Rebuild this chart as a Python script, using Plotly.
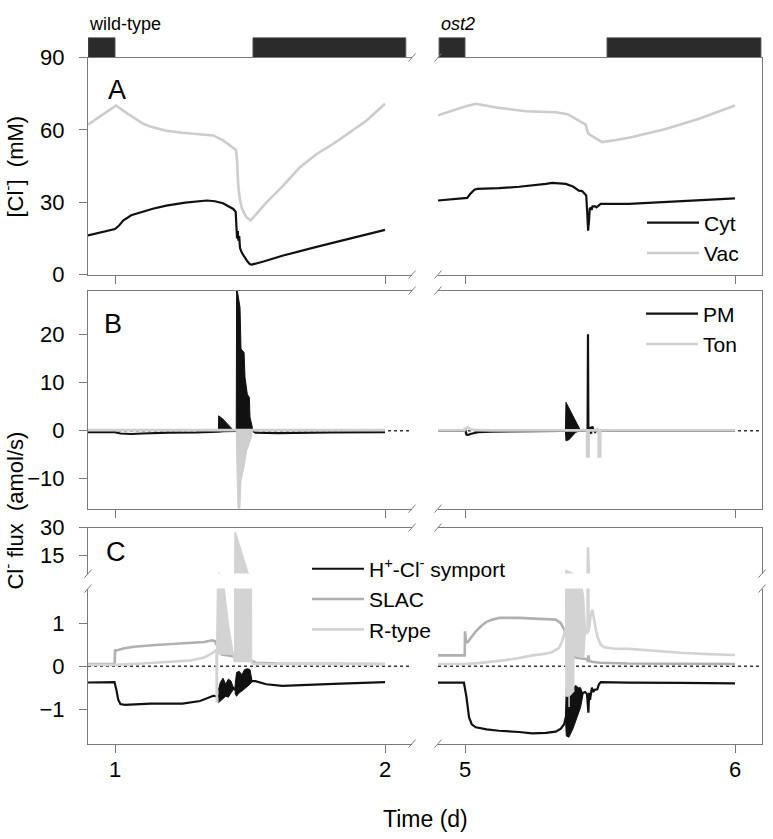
import plotly.graph_objects as go

W, H = 773, 839

# ---------------- data (time in days) ----------------
# light / dark periods (dark bars)
wt_dark_start = [0.9, 1.511]
wt_dark_end = [1.0, 2.077]
ost2_dark_start = [4.904, 5.526]
ost2_dark_end = [5.0, 6.096]

# ---- Panel A : [Cl-] (mM) ----
wt_cyt_t = [0.9, 1.0, 1.015, 1.03, 1.06, 1.093, 1.14, 1.19, 1.26, 1.34, 1.37, 1.40, 1.438, 1.447,
            1.450, 1.452, 1.455, 1.457, 1.460, 1.463, 1.470, 1.480, 1.490, 1.500, 1.506, 1.55,
            1.623, 1.75, 1.90, 2.0]
wt_cyt = [16.2, 18.9, 20.3, 22.4, 24.6, 25.8, 27.3, 28.6, 29.8, 30.7, 30.4, 29.6, 27.2, 26.0,
          20.0, 15.0, 18.0, 14.0, 16.0, 11.0, 9.0, 7.0, 5.5, 4.3, 4.1, 5.4, 7.9, 11.6, 15.8, 18.5]
wt_vac_t = [0.9, 0.95, 1.0, 1.004, 1.03, 1.067, 1.1, 1.13, 1.19, 1.25, 1.315, 1.364, 1.4, 1.437,
            1.448, 1.452, 1.457, 1.463, 1.469, 1.478, 1.487, 1.502, 1.53, 1.562, 1.623, 1.685,
            1.747, 1.808, 1.87, 1.932, 2.0]
wt_vac = [62.2, 66.0, 69.6, 70.1, 68.0, 65.1, 62.8, 61.4, 59.6, 58.8, 58.3, 57.7, 55.6, 52.8,
          51.7, 47.3, 36.2, 31.0, 27.9, 25.5, 23.8, 22.4, 26.0, 30.0, 36.9, 44.5, 50.0, 54.2,
          59.0, 63.9, 70.8]

ost2_cyt_t = [4.9, 5.0, 5.008, 5.02, 5.035, 5.045, 5.126, 5.2, 5.249, 5.3, 5.323, 5.36, 5.373,
              5.4, 5.422, 5.434, 5.449, 5.453, 5.456, 5.459, 5.462, 5.466, 5.469, 5.472, 5.48,
              5.4865, 5.5026, 5.607, 5.8, 6.0]
ost2_cyt = [30.7, 31.5, 31.8, 33.5, 35.2, 35.5, 35.8, 36.4, 36.9, 37.6, 38.0, 37.9, 37.6,
            36.5, 34.8, 34.6, 32.8, 25.0, 18.2, 22.0, 27.2, 27.8, 26.8, 28.2, 28.4, 27.9,
            29.3, 29.3, 30.5, 31.6]
ost2_vac_t = [4.9, 5.0, 5.04, 5.126, 5.225, 5.336, 5.38, 5.422, 5.447, 5.452, 5.457, 5.466,
              5.484, 5.508, 5.56, 5.62, 5.743, 5.867, 6.0]
ost2_vac = [66.0, 69.7, 70.8, 69.1, 67.7, 67.3, 66.5, 63.9, 62.2, 60.0, 58.3, 57.7, 56.4, 54.9,
            55.8, 57.0, 60.4, 64.6, 70.1]

# ---- Panel B : Cl- flux PM / tonoplast (amol/s) ----
wt_pm_t = [0.9, 1.0, 1.02, 1.06, 1.1, 1.15, 1.2, 1.3, 1.37, 1.383, 1.40, 1.438, 1.449, 1.509,
           1.52, 1.6, 1.8, 2.0]
wt_pm = [-0.3, -0.3, -0.6, -0.7, -0.6, -0.45, -0.4, -0.35, -0.3, -0.2, -0.1, -0.1, 0.0, 0.0,
         -0.4, -0.5, -0.35, -0.3]
wt_pm_b1_t = [1.383, 1.384, 1.40, 1.42, 1.438]
wt_pm_b1_hi = [0.0, 3.1, 2.4, 1.3, 0.1]
wt_pm_b1_lo = [0.0, 0.0, 0.0, 0.0, 0.0]
wt_pm_b2_t = [1.449, 1.4505, 1.463, 1.4667, 1.478, 1.4815, 1.490, 1.4975, 1.500, 1.5086]
wt_pm_b2_hi = [0.0, 30.0, 25.7, 17.0, 16.3, 11.1, 7.6, 6.9, 2.8, 0.7]
wt_pm_b2_lo = [0.0, 0.0, 0.0, 0.0, 0.0, 0.0, 0.0, 0.0, 0.0, 0.0]
wt_ton_t = [0.9, 1.0, 1.05, 1.1, 1.3, 1.38, 1.449, 1.508, 1.52, 2.0]
wt_ton = [0.1, 0.1, 0.25, 0.15, 0.1, 0.1, 0.1, 0.1, 0.15, 0.1]
wt_ton_b_t = [1.449, 1.452, 1.456, 1.462, 1.4667, 1.478, 1.4875, 1.4975, 1.5056, 1.508]
wt_ton_b_hi = [0.0, 0.0, 0.0, 0.0, 0.0, 0.0, 0.0, 0.0, 0.0, 0.0]
wt_ton_b_lo = [0.0, -9.0, -17.0, -17.0, -10.4, -7.6, -4.2, -2.8, -1.4, 0.0]

ost2_pm_t = [4.9, 4.998, 5.0, 5.005, 5.012, 5.02, 5.035, 5.05, 5.1, 5.2, 5.3, 5.372, 5.428,
             5.44, 5.452, 5.454, 5.4555, 5.457, 5.46, 5.463, 5.467, 5.471, 5.476, 5.482, 5.49,
             5.5, 5.6, 6.0]
ost2_pm = [-0.05, -0.05, 0.5, -0.8, -0.9, -0.7, -0.5, -0.3, -0.2, -0.15, -0.1, -0.1, 0.0,
           0.0, 0.0, 0.0, 20.1, 0.0, -0.8, 0.8, -0.6, 0.9, 0.2, -0.3, 0.2, 0.0, -0.05, -0.05]
ost2_pm_b_t = [5.372, 5.374, 5.385, 5.41, 5.428]
ost2_pm_b_hi = [0.0, 5.9, 4.7, 2.1, 0.1]
ost2_pm_b_lo = [0.0, -2.1, -1.9, -0.35, 0.0]
ost2_ton_t = [4.9, 4.998, 5.0, 5.01, 5.02, 5.05, 5.1, 5.452, 5.4522, 5.4578, 5.458, 5.495,
              5.4952, 5.5008, 5.501, 6.0]
ost2_ton = [0.05, 0.05, 0.3, 0.7, 0.3, 0.1, 0.05, 0.05, -5.4, -5.4, 0.05, 0.05, -5.4, -5.4,
            0.05, 0.05]

# ---- Panel C : Cl- flux by transporter (amol/s) ----
wt_sym_t = [0.9, 0.998, 1.005, 1.012, 1.02, 1.037, 1.13, 1.25, 1.315, 1.364, 1.383, 1.41,
            1.438, 1.445, 1.475, 1.506, 1.52, 1.56, 1.62, 1.81, 2.0]
wt_sym = [-0.38, -0.37, -0.55, -0.78, -0.88, -0.9, -0.87, -0.87, -0.81, -0.69, -0.7, -0.55,
          -0.5, -0.55, -0.35, -0.35, -0.35, -0.42, -0.46, -0.41, -0.37]
wt_sym_b1_t = [1.383, 1.39, 1.40, 1.41, 1.42, 1.43, 1.438]
wt_sym_b1_hi = [-0.55, -0.38, -0.28, -0.42, -0.3, -0.35, -0.5]
wt_sym_b1_lo = [-0.85, -0.82, -0.75, -0.7, -0.72, -0.62, -0.55]
wt_sym_b2_t = [1.444, 1.45, 1.46, 1.47, 1.48, 1.49, 1.50, 1.508]
wt_sym_b2_hi = [-0.5, -0.15, -0.12, -0.2, -0.08, -0.06, -0.08, -0.3]
wt_sym_b2_lo = [-0.62, -0.7, -0.62, -0.58, -0.52, -0.48, -0.42, -0.36]
wt_slac_t = [0.9, 0.999, 1.0, 1.004, 1.03, 1.07, 1.15, 1.25, 1.33, 1.36, 1.37, 1.38, 1.395,
             1.42, 1.44, 1.46, 1.5, 1.52, 1.6, 2.0]
wt_slac = [0.05, 0.05, 0.38, 0.36, 0.41, 0.45, 0.49, 0.52, 0.56, 0.6, 0.58, 0.45, 0.27, 0.25,
           0.22, 0.2, 0.15, 0.08, 0.06, 0.05]
wt_rt_t = [0.9, 1.0, 1.1, 1.2, 1.28, 1.33, 1.36, 1.376, 1.377, 1.378, 1.38, 1.44, 1.443,
           1.506, 1.51, 1.55, 2.0]
wt_rt = [0.03, 0.03, 0.06, 0.09, 0.13, 0.2, 0.3, 0.38, -0.85, 0.3, 0.3, 0.3, 0.12, 0.12,
         0.06, 0.05, 0.05]
wt_rt_b1_t = [1.376, 1.3765, 1.384, 1.385, 1.386, 1.405, 1.42, 1.438]
wt_rt_b1_hi = [0.3, 2.5, 2.5, 5.6, 2.5, 1.8, 1.0, 0.3]
wt_rt_b1_lo = [0.3, 0.28, 0.28, 0.28, 0.28, 0.28, 0.28, 0.3]
wt_rt_b2_t = [1.443, 1.4435, 1.447, 1.47, 1.494, 1.4945, 1.506, 1.5065]
wt_rt_b2_hi = [0.12, 27.5, 27.3, 17.0, 5.0, 2.5, 2.5, 0.12]
wt_rt_b2_lo = [0.12, 0.12, 0.12, 0.12, 0.12, 0.12, 0.12, 0.12]

ost2_sym_t = [4.9, 4.996, 5.005, 5.015, 5.025, 5.04, 5.08, 5.126, 5.2, 5.249, 5.3, 5.336,
              5.355, 5.367, 5.373, 5.437, 5.445, 5.452, 5.457, 5.46, 5.463, 5.466, 5.47,
              5.475, 5.48, 5.49, 5.496, 5.503, 5.6, 5.8, 6.0]
ost2_sym = [-0.385, -0.385, -0.7, -1.19, -1.35, -1.42, -1.47, -1.5, -1.53, -1.56, -1.55,
            -1.52, -1.45, -1.35, -1.2, -0.62, -0.6, -0.65, -1.08, -0.62, -0.78, -0.69, -0.5,
            -0.6, -0.55, -0.54, -0.42, -0.37, -0.385, -0.39, -0.4]
ost2_sym_b_t = [5.372, 5.375, 5.385, 5.4, 5.41, 5.42, 5.428, 5.437]
ost2_sym_b_hi = [-1.2, -0.5, -0.3, -0.5, -0.45, -0.5, -0.5, -0.62]
ost2_sym_b_lo = [-1.2, -1.62, -1.65, -1.45, -1.3, -1.1, -0.96, -0.66]
ost2_slac_t = [4.9, 4.999, 5.0, 5.004, 5.01, 5.02, 5.04, 5.06, 5.08, 5.1, 5.126, 5.2, 5.25,
               5.3, 5.336, 5.355, 5.367, 5.38, 5.39, 5.4, 5.41, 5.42, 5.44, 5.452, 5.455,
               5.457, 5.46, 5.47, 5.5, 5.6, 6.0]
ost2_slac = [0.25, 0.25, 0.81, 0.55, 0.56, 0.65, 0.81, 0.93, 1.03, 1.08, 1.12, 1.12, 1.11,
             1.1, 1.08, 1.0, 0.85, 0.62, 0.4, 0.25, 0.2, 0.19, 0.17, 0.16, 0.1, 0.25, 0.12,
             0.1, 0.08, 0.06, 0.05]
ost2_rt_t = [4.9, 5.0, 5.05, 5.1, 5.15, 5.2, 5.25, 5.3, 5.32, 5.348, 5.36, 5.372, 5.447,
             5.452, 5.454, 5.4555, 5.457, 5.46, 5.465, 5.4716, 5.478, 5.484, 5.49, 5.496,
             5.503, 5.515, 5.55, 5.607, 5.7, 5.8, 5.9, 6.0]
ost2_rt = [0.05, 0.05, 0.07, 0.1, 0.14, 0.19, 0.25, 0.29, 0.32, 0.42, 0.58, 0.85, 0.85, 0.75,
           0.8, 19.3, 0.8, 0.9, 1.15, 1.31, 1.05, 0.88, 0.69, 0.58, 0.5, 0.44, 0.41, 0.4,
           0.35, 0.31, 0.28, 0.26]
ost2_rt_b_t = [5.372, 5.373, 5.385, 5.3855, 5.386, 5.395, 5.40, 5.4035, 5.404, 5.42, 5.43,
               5.44, 5.447]
ost2_rt_b_hi = [0.85, 7.0, 6.3, 6.3, 6.3, 5.6, 5.0, 3.0, 3.0, 2.5, 2.0, 1.6, 0.85]
ost2_rt_b_lo = [0.85, -0.7, -0.7, -0.95, -0.7, -0.65, -0.6, -0.6, 0.25, 0.22, 0.2, 0.2, 0.85]

# tick labels / ranges
x_ticks_wt = [1, 2]
x_ticks_ost2 = [5, 6]
x_range_wt = [0.9, 2.1]
x_range_ost2 = [4.9, 6.1]
yA_ticks = [0, 30, 60, 90]
yB_ticks = [-10, 0, 10, 20]
yCu_ticks = [15, 30]
yCl_ticks = [-1, 0, 1]
yA_range = [0, 90]
yB_range = [-16.25, 29.2]
yCu_range = [5, 30]
yCl_range = [-1.8, 1.8]

# ---------------- style ----------------
FONT = "Liberation Sans, Arial, sans-serif"
AX = "#7a7a7a"
BLACK = "#111111"
VAC = "#cccccc"
TON = "#cfcfcf"
SLAC = "#b0b0b0"
RTYPE = "#d3d3d3"
LW = 2.2

# target pixel layout of the panels (as seen in the final picture)
cols = {"L": (88, 412), "R": (438, 762)}
rows = {"bar": (37, 57), "A": (57, 274), "B": (290, 508), "Cu": (527, 573), "Cl": (588, 743)}
row_order = ["bar", "A", "B", "Cu", "Cl"]
col_order = ["L", "R"]

# the captured page maps page-y to picture-y as  y_pic = 11.5 + 0.970 * y_page
Y_OFF, Y_SCALE = 11.5, 0.970


def px_x(p):
    return p / W


def px_y(p):
    yp = (p - Y_OFF) / Y_SCALE
    return 1 - yp / H


def axn(r, c):
    return row_order.index(r) * 2 + col_order.index(c) + 1


def xa(r, c):
    n = axn(r, c)
    return "x" if n == 1 else f"x{n}"


def ya(r, c):
    n = axn(r, c)
    return "y" if n == 1 else f"y{n}"


fig = go.Figure()


def add_line(r, c, t, v, color, name=None, legend=None, width=LW):
    fig.add_trace(go.Scatter(x=t, y=v, xaxis=xa(r, c), yaxis=ya(r, c), mode="lines",
                             line=dict(color=color, width=width), name=name,
                             showlegend=name is not None, legend=legend,
                             hoverinfo="skip"))


def add_burst(r, c, t, hi, lo, color):
    xs = list(t) + list(t)[::-1]
    ys = list(hi) + list(lo)[::-1]
    fig.add_trace(go.Scatter(x=xs, y=ys, xaxis=xa(r, c), yaxis=ya(r, c), mode="lines",
                             fill="toself", fillcolor=color,
                             line=dict(color=color, width=1), showlegend=False,
                             hoverinfo="skip"))


# ---- day / night bars ----
for c, s, e in [("L", wt_dark_start, wt_dark_end), ("R", ost2_dark_start, ost2_dark_end)]:
    fig.add_trace(go.Bar(y=["d"] * len(s), x=[b - a for a, b in zip(s, e)], base=s,
                         orientation="h", xaxis=xa("bar", c), yaxis=ya("bar", c),
                         marker=dict(color="#2b2b2b", line=dict(color="#555555", width=1)),
                         width=1, showlegend=False, hoverinfo="skip"))

# ---- Panel A ----
add_line("A", "L", wt_cyt_t, wt_cyt, BLACK, "Cyt", "legend")
add_line("A", "L", wt_vac_t, wt_vac, VAC, "Vac", "legend", width=2.6)
add_line("A", "R", ost2_cyt_t, ost2_cyt, BLACK)
add_line("A", "R", ost2_vac_t, ost2_vac, VAC, width=2.6)

# ---- Panel B ----
add_line("B", "L", wt_pm_t, wt_pm, BLACK, "PM", "legend2")
add_burst("B", "L", wt_pm_b1_t, wt_pm_b1_hi, wt_pm_b1_lo, BLACK)
add_burst("B", "L", wt_pm_b2_t, wt_pm_b2_hi, wt_pm_b2_lo, BLACK)
add_line("B", "L", wt_ton_t, wt_ton, TON, "Ton", "legend2", width=2.6)
add_burst("B", "L", wt_ton_b_t, wt_ton_b_hi, wt_ton_b_lo, TON)
add_line("B", "R", ost2_pm_t, ost2_pm, BLACK)
add_burst("B", "R", ost2_pm_b_t, ost2_pm_b_hi, ost2_pm_b_lo, BLACK)
add_line("B", "R", ost2_ton_t, ost2_ton, TON, width=2.6)

# ---- Panel C (drawn on both segments of the broken axis) ----
for seg in ["Cu", "Cl"]:
    first = seg == "Cl"
    add_line(seg, "L", wt_sym_t, wt_sym, BLACK,
             "H<sup>+</sup>-Cl<sup>-</sup> symport" if first else None, "legend3")
    add_burst(seg, "L", wt_sym_b1_t, wt_sym_b1_hi, wt_sym_b1_lo, BLACK)
    add_burst(seg, "L", wt_sym_b2_t, wt_sym_b2_hi, wt_sym_b2_lo, BLACK)
    add_line(seg, "L", wt_slac_t, wt_slac, SLAC, "SLAC" if first else None, "legend3", width=2.6)
    add_line(seg, "L", wt_rt_t, wt_rt, RTYPE, "R-type" if first else None, "legend3", width=2.6)
    add_burst(seg, "L", wt_rt_b1_t, wt_rt_b1_hi, wt_rt_b1_lo, RTYPE)
    add_burst(seg, "L", wt_rt_b2_t, wt_rt_b2_hi, wt_rt_b2_lo, RTYPE)

    add_line(seg, "R", ost2_sym_t, ost2_sym, BLACK)
    add_burst(seg, "R", ost2_sym_b_t, ost2_sym_b_hi, ost2_sym_b_lo, BLACK)
    add_line(seg, "R", ost2_slac_t, ost2_slac, SLAC, width=2.6)
    add_line(seg, "R", ost2_rt_t, ost2_rt, RTYPE, width=2.6)
    add_burst(seg, "R", ost2_rt_b_t, ost2_rt_b_hi, ost2_rt_b_lo, RTYPE)

# ---------------- axes ----------------
layout = {}
yranges = {"bar": [-0.5, 0.5], "A": yA_range, "B": yB_range, "Cu": yCu_range, "Cl": yCl_range}
yticks = {"A": yA_ticks, "B": yB_ticks, "Cu": yCu_ticks, "Cl": yCl_ticks}
tickfont = dict(family=FONT, size=22, color="#000000")

for r in row_order:
    for c in col_order:
        n = axn(r, c)
        xk = "xaxis" if n == 1 else f"xaxis{n}"
        yk = "yaxis" if n == 1 else f"yaxis{n}"
        xdom = [px_x(cols[c][0]), px_x(cols[c][1])]
        ydom = [px_y(rows[r][1]), px_y(rows[r][0])]
        xr = x_range_wt if c == "L" else x_range_ost2
        xt = x_ticks_wt if c == "L" else x_ticks_ost2
        if r == "bar":
            layout[xk] = dict(domain=xdom, range=xr, visible=False, anchor=ya(r, c))
            layout[yk] = dict(domain=ydom, range=yranges[r], visible=False, anchor=xa(r, c))
            continue
        xd = dict(domain=xdom, range=xr, anchor=ya(r, c), showgrid=False, zeroline=False,
                  showline=True, linecolor=AX, linewidth=1, tickvals=xt, tickcolor=AX,
                  ticklen=8, tickwidth=1, tickfont=tickfont, fixedrange=True)
        if r in ("A", "B"):
            xd.update(mirror=True, ticks="outside", showticklabels=False)
        elif r == "Cu":
            xd.update(side="top", ticks="", showticklabels=False)
        else:
            xd.update(side="bottom", ticks="outside", showticklabels=True,
                      ticklabelstandoff=-2)
        yd = dict(domain=ydom, range=yranges[r], anchor=xa(r, c), showgrid=False,
                  zeroline=False, showline=True, linecolor=AX, linewidth=1, fixedrange=True)
        if c == "L":
            yd.update(side="left", ticks="outside", ticklen=8, tickcolor=AX,
                      tickvals=yticks[r], tickfont=tickfont, ticklabelstandoff=10)
        else:
            yd.update(side="right", ticks="", showticklabels=False)
        layout[xk] = xd
        layout[yk] = yd

# ---------------- decorations ----------------
shapes = []
# dotted zero lines
for r in ["B", "Cl"]:
    for c in col_order:
        n = axn(r, c)
        shapes.append(dict(type="line", xref=f"x{n} domain", yref=f"y{n}", x0=0, x1=1,
                           y0=0, y1=0, layer="below",
                           line=dict(color="#333333", width=1.5, dash="dot")))


def brk(x, y):
    shapes.append(dict(type="line", xref="paper", yref="paper",
                       x0=px_x(x - 3.5), y0=px_y(y + 4), x1=px_x(x + 3.5), y1=px_y(y - 4),
                       line=dict(color=AX, width=1)))


for yy in [rows["A"][0], rows["A"][1], rows["B"][0], rows["B"][1], rows["Cu"][0],
           rows["Cl"][1]]:
    brk(cols["L"][1], yy)
    brk(cols["R"][0], yy)
for xx in [cols["L"][0], cols["R"][1]]:
    brk(xx, rows["Cu"][1])
    brk(xx, rows["Cl"][0])

ann = []


def text(x, y, s, size, **kw):
    ann.append(dict(x=px_x(x), y=min(1.0, px_y(y)), xref="paper", yref="paper", text=s,
                    showarrow=False, font=dict(family=FONT, size=size, color="#000"), **kw))


text(87, 11.5, "wild-type", 18, xanchor="left", yanchor="top")
text(439, 11.5, "<i>ost2</i>", 18, xanchor="left", yanchor="top")
text(117, 89, "A", 27, xanchor="center", yanchor="middle")
text(113, 323, "B", 27, xanchor="center", yanchor="middle")
text(116, 551, "C", 27, xanchor="center", yanchor="middle")
text(13, 166, "[Cl<sup>-</sup>]  (mM)", 22, xanchor="center", yanchor="middle", textangle=-90)
text(13, 510, "Cl<sup>-</sup> flux  (amol/s)", 22, xanchor="center", yanchor="middle",
     textangle=-90)
text(425, 818, "Time (d)", 23, xanchor="center", yanchor="middle")

leg_common = dict(xanchor="left", yanchor="top", bgcolor="rgba(0,0,0,0)",
                  font=dict(family=FONT, size=21, color="#000"), itemwidth=52,
                  tracegroupgap=0, traceorder="normal")

fig.update_layout(
    width=W, height=H, margin=dict(l=0, r=0, t=0, b=0),
    paper_bgcolor="white", plot_bgcolor="rgba(0,0,0,0)",
    font=dict(family=FONT, size=22, color="#000"),
    barmode="overlay", bargap=0,
    shapes=shapes, annotations=ann,
    legend=dict(x=px_x(642), y=px_y(202), **leg_common),
    legend2=dict(x=px_x(641), y=px_y(293), **leg_common),
    legend3=dict(x=px_x(307), y=px_y(548), **leg_common),
    **layout,
)

fig.write_html(
    "out.html",
    config={"displayModeBar": False, "staticPlot": True},
    post_script=(
        "document.documentElement.style.margin='0';"
        "document.body.style.margin='0';"
        "document.body.style.overflow='hidden';"
        "var gd=document.getElementById('{plot_id}');"
        "gd.style.position='fixed';gd.style.top='0px';gd.style.left='0px';"
    ),
)
